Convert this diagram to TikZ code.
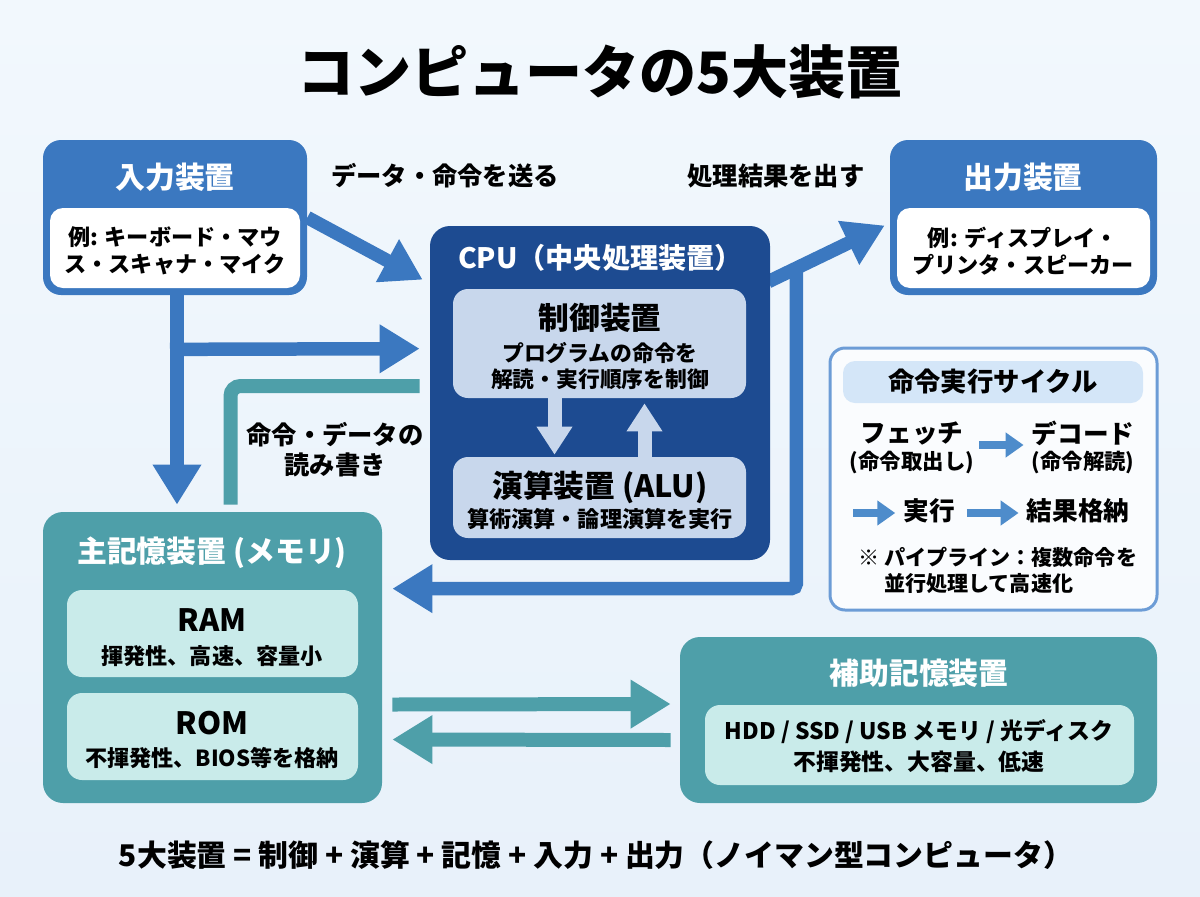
\documentclass[tikz,border=0pt]{standalone}
\usepackage{fontspec}
\setmainfont{Noto Sans CJK JP}
\usetikzlibrary{arrows.meta,calc,fit,positioning}

\definecolor{bgtop}{HTML}{F2F8FD}
\definecolor{bgbottom}{HTML}{E8F1FA}
\definecolor{devblue}{HTML}{3B78C0}
\definecolor{cpublue}{HTML}{1D4B91}
\definecolor{cpuinner}{HTML}{C8D7EC}
\definecolor{memteal}{HTML}{4E9FA9}
\definecolor{meminner}{HTML}{C9EBEA}
\definecolor{cycleline}{HTML}{6C9CD6}
\definecolor{cyclehead}{HTML}{D4E6F8}
\definecolor{cyclearrow}{HTML}{4E8CCB}

\pgfdeclarelayer{back}
\pgfdeclarelayer{flow}
\pgfsetlayers{back,flow,main}

\tikzset{
  devbox/.style={fill=devblue, rounded corners=3.6mm, inner sep=0pt},
  whitebox/.style={fill=white, rounded corners=2.6mm, inner sep=0pt},
  cpubox/.style={fill=cpublue, rounded corners=4mm, inner sep=0pt},
  cpupart/.style={fill=cpuinner, rounded corners=3mm, inner sep=0pt},
  membox/.style={fill=memteal, rounded corners=4mm, inner sep=0pt},
  mempart/.style={fill=meminner, rounded corners=3mm, inner sep=0pt},
  cyclebox/.style={draw=cycleline, line width=0.6mm, fill=white!60!bgtop, rounded corners=3mm, inner sep=0pt},
  cyclebar/.style={fill=cyclehead, rounded corners=2.4mm, inner sep=0pt},
  titletext/.style={font=\fontsize{32.5}{38}\selectfont\bfseries},
  headtext/.style={text=white, font=\fontsize{17}{20}\selectfont\bfseries},
  unittext/.style={font=\fontsize{17.5}{21}\selectfont\bfseries},
  bodytext/.style={align=center, font=\fontsize{12.6}{15.5}\selectfont\bfseries},
  labeltext/.style={align=center, font=\fontsize{14.4}{17}\selectfont\bfseries},
  cycletext/.style={font=\fontsize{14.6}{17}\selectfont\bfseries, inner sep=1pt},
  cyclesub/.style={font=\fontsize{12.2}{15}\selectfont\bfseries, inner sep=1pt},
  flowblue/.style={draw=devblue, line width=2.7mm, -{Triangle[length=8mm,width=9.2mm]}},
  flowteal/.style={draw=memteal, line width=2.8mm, -{Triangle[length=8mm,width=9.2mm]}},
  flowinner/.style={draw=cpuinner, line width=2.8mm, -{Triangle[length=5.6mm,width=6.8mm]}},
  flowcycle/.style={draw=cyclearrow, line width=1.7mm, -{Triangle[length=3.6mm,width=4.8mm]}},
}

\begin{document}
\begin{tikzpicture}[x=0.02cm, y=-0.02cm]
  \begin{pgfonlayer}{back}
    \shade[top color=bgtop, bottom color=bgbottom] (0,0) rectangle (1200,896);
  \end{pgfonlayer}
  \useasboundingbox (0,0) rectangle (1200,896);

  % title
  \node[titletext] (title) at (600,72) {コンピュータの5大装置};

  % input device
  \node[devbox, fit={(43,140) (307,295)}] (input) {};
  \node[whitebox, fit={(50,208) (300,288)}] (inputex) {};
  \node[headtext] (inputhead) at (175,177) {入力装置};
  \node[bodytext] (inputtext) at (175,251) {例: キーボード・マウ\\ス・スキャナ・マイク};

  % output device
  \node[devbox, fit={(890,140) (1157,295)}] (output) {};
  \node[whitebox, fit={(897,208) (1150,288)}] (outputex) {};
  \node[headtext] (outputhead) at (1023,177) {出力装置};
  \node[bodytext] (outputtext) at (1023,251) {例: ディスプレイ・\\プリンタ・スピーカー};

  % CPU
  \node[cpubox, fit={(430,226) (770,560)}] (cpu) {};
  \node[headtext, anchor=west, font=\fontsize{16}{19}\selectfont\bfseries] (cputitle) at (452,258) {CPU（中央処理装置）};
  \node[cpupart, fit={(453,289) (746,398)}] (ctrl) {};
  \node[unittext] (ctrlhead) at (600,318) {制御装置};
  \node[bodytext, font=\fontsize{12.4}{14.8}\selectfont\bfseries] (ctrltext) at (600,366) {プログラムの命令を\\解読・実行順序を制御};
  \node[cpupart, fit={(453,457) (746,538)}] (alu) {};
  \node[unittext] (aluhead) at (600,487) {演算装置 (ALU)};
  \node[bodytext] (alutext) at (600,519) {算術演算・論理演算を実行};

  % main memory
  \node[membox, fit={(43,512) (382,803)}] (mem) {};
  \node[headtext] (memhead) at (212,553) {主記憶装置 (メモリ)};
  \node[mempart, fit={(67,590) (358,677)}] (ram) {};
  \node[unittext] (ramhead) at (212,620) {RAM};
  \node[bodytext] (ramtext) at (212,656) {揮発性、高速、容量小};
  \node[mempart, fit={(67,693) (358,780)}] (rom) {};
  \node[unittext] (romhead) at (212,723) {ROM};
  \node[bodytext] (romtext) at (212,758) {不揮発性、BIOS等を格納};

  % auxiliary storage
  \node[membox, fit={(680,637) (1157,803)}] (aux) {};
  \node[headtext] (auxhead) at (919,673) {補助記憶装置};
  \node[mempart, fit={(705,705) (1134,785)}] (auxpart) {};
  \node[bodytext, font=\fontsize{13}{18}\selectfont\bfseries] (auxtext) at (919,746) {HDD / SSD / USB メモリ / 光ディスク\\不揮発性、大容量、低速};

  % instruction cycle
  \node[cyclebox, fit={(830,348) (1157,610)}] (cycle) {};
  \node[cyclebar, fit={(843,361) (1143,403)}] (cyclebar) {};
  \node[cycletext, font=\fontsize{15}{18}\selectfont\bfseries] (cyclehead) at (cyclebar) {命令実行サイクル};
  \node[cycletext] (fetch) at (912,433) {フェッチ};
  \node[cyclesub] (fetchsub) at (912,463) {(命令取出し)};
  \node[cycletext] (decode) at (1083,433) {デコード};
  \node[cyclesub] (decodesub) at (1083,463) {(命令解読)};
  \node[cycletext] (execute) at (929,511) {実行};
  \node[cycletext] (store) at (1078,511) {結果格納};
  \node[bodytext, align=left, anchor=west, font=\fontsize{12}{14.8}\selectfont\bfseries] (pipeline) at (852,570)
    {※ パイプライン：複数命令を\\\phantom{※ }並行処理して高速化};

  % labels
  \node[labeltext] (sendlabel) at (445,176) {データ・命令を送る};
  \node[labeltext] (outlabel) at (776,176) {処理結果を出す};
  \node[labeltext] (rwlabel) at (335,450) {命令・データの\\読み書き};

  % summary
  \node[font=\fontsize{17}{20}\selectfont\bfseries] (summary) at (596,855)
    {5大装置 = 制御 + 演算 + 記憶 + 入力 + 出力（ノイマン型コンピュータ）};

  % connectors
  \begin{pgfonlayer}{flow}
    \draw[flowblue] (input.east) -- ($(cpu.north west)+(-7,54)$);
    \draw[flowblue] ($(input.south)+(2,-4)$) -- ($(input.south |- mem.north)+(2,-7)$);
    \draw[flowblue] ($(input.south)+(-5,54)$) -- ($(cpu.north west)+(-10,123)$);
    \draw[memteal, line width=2.8mm, rounded corners=2mm] ($(cpu.west)+(-10,-7)$) -| ($(mem.north)+(18,-7)$);
    \draw[flowblue] ($(cpu.north east)+(-2,56)$) -- ($(output.west)+(-5,8)$);
    \draw[flowblue, rounded corners=1mm] ($(cpu.north east)+(26,46)$) |- ($(mem.north east)+(10,77)$);
    \draw[flowteal] ($(mem.east)+(10,47)$) -- ($(aux.west)+(-9,-16)$);
    \draw[flowteal] ($(aux.west)+(-9,20)$) -- ($(mem.east)+(10,82)$);
  \end{pgfonlayer}
  \draw[flowinner] ($(ctrl.south)+(-45,0)$) -- ($(alu.north)+(-45,-2)$);
  \draw[flowinner] ($(alu.north)+(45,0)$) -- ($(ctrl.south)+(45,5)$);
  \draw[flowcycle] ($(fetch.east)+(14,12)$) -- ($(decode.west)+(-6,12)$);
  \draw[flowcycle] ($(execute.west)+(-48,2)$) -- ($(execute.west)+(-6,2)$);
  \draw[flowcycle] ($(execute.east)+(10,2)$) -- ($(store.west)+(-6,2)$);
\end{tikzpicture}
\end{document}
